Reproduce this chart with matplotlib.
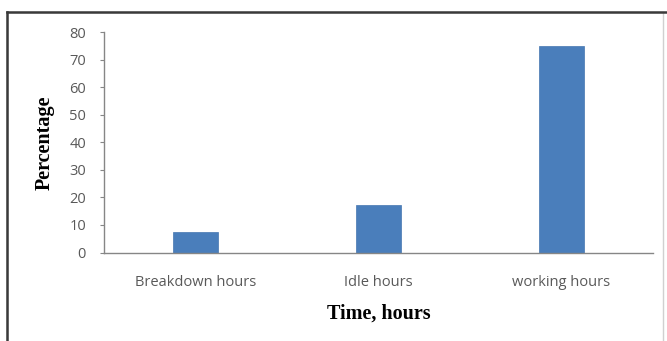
"""
Bar chart: share of breakdown, idle and working hours.
Output: out.png (667x341 px)
"""

import matplotlib
matplotlib.use("Agg")
import matplotlib.pyplot as plt
from matplotlib.patches import Rectangle

categories = ["Breakdown hours", "Idle hours", "working hours"]
percentages = [7.5, 17.3, 75]
y_ticks = [0, 10, 20, 30, 40, 50, 60, 70, 80]

BAR_COLOR = "#4a7ebb"
AXIS_COLOR = "#868686"
TICK_TEXT = "#595959"

fig = plt.figure(figsize=(6.67, 3.41), dpi=100, facecolor="white")

# outer chart frame: dark top/left, light right edge
fig.add_artist(Rectangle((7 / 667, -0.05), (663 - 7) / 667, 1.05 - 12 / 341,
                         transform=fig.transFigure, fill=False,
                         edgecolor="#d0d0d0", linewidth=1.0))
fig.add_artist(plt.Line2D([7 / 667, 1.0], [1 - 12 / 341] * 2,
                          transform=fig.transFigure, color="#3a3a3a", linewidth=1.8))
fig.add_artist(plt.Line2D([7 / 667] * 2, [0, 1 - 12 / 341],
                          transform=fig.transFigure, color="#3a3a3a", linewidth=1.8))

ax = fig.add_axes([104 / 667, 1 - 252.5 / 341, (653 - 104) / 667, (252.5 - 32) / 341])
x = range(len(categories))
ax.bar(x, percentages, width=0.25, color=BAR_COLOR, edgecolor="#4575b0", linewidth=0.5)

ax.set_xlim(-0.5, len(categories) - 0.5)
ax.set_ylim(0, 80)
ax.set_yticks(y_ticks)
ax.set_xticks(list(x))
ax.set_xticklabels(categories)

for side in ("top", "right"):
    ax.spines[side].set_visible(False)
for side in ("left", "bottom"):
    ax.spines[side].set_color(AXIS_COLOR)
    ax.spines[side].set_linewidth(1.0)

ax.tick_params(axis="y", direction="out", length=3, width=0.8, color=AXIS_COLOR,
               labelsize=10.5, labelcolor=TICK_TEXT, pad=10)
ax.tick_params(axis="x", length=0, labelsize=10.5, labelcolor=TICK_TEXT, pad=16)
for lbl in ax.get_xticklabels() + ax.get_yticklabels():
    lbl.set_family("Open Sans")

ax.set_ylabel("Percentage", family="Liberation Serif", fontweight="bold",
              fontsize=14.5, labelpad=10)
ax.set_xlabel("Time, hours", family="Liberation Serif", fontweight="bold",
              fontsize=14.5, labelpad=10)

fig.savefig("out.png", dpi=100, facecolor="white")
